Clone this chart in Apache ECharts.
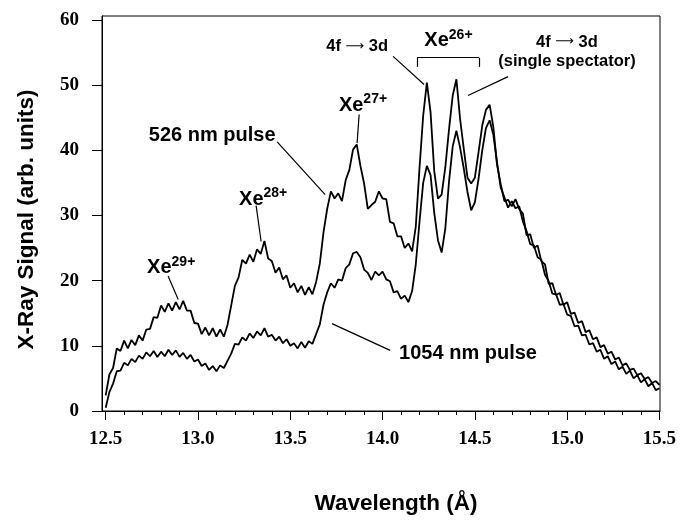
<!DOCTYPE html>
<html><head><meta charset="utf-8">
<script src="https://cdn.jsdelivr.net/npm/echarts@6/dist/echarts.min.js"></script>
<style>html,body{margin:0;padding:0;background:#fff}#c{width:685px;height:520px}</style>
</head><body><div id="c"></div>
<script>
// Wavelength grid (Å)
const wavelength = [
12.50,12.52,12.54,12.56,12.58,12.60,12.62,12.64,12.66,12.68,12.70,12.72,12.74,12.76,12.78,12.80,12.82,12.84,12.86,12.88,
12.90,12.92,12.94,12.96,12.98,13.00,13.02,13.04,13.06,13.08,13.10,13.12,13.14,13.16,13.18,13.20,13.22,13.24,13.26,13.28,
13.30,13.32,13.34,13.36,13.38,13.40,13.42,13.44,13.46,13.48,13.50,13.52,13.54,13.56,13.58,13.60,13.62,13.64,13.66,13.68,
13.70,13.72,13.74,13.76,13.78,13.80,13.82,13.84,13.86,13.88,13.90,13.92,13.94,13.96,13.98,14.00,14.02,14.04,14.06,14.08,
14.10,14.12,14.14,14.16,14.18,14.20,14.22,14.24,14.26,14.28,14.30,14.32,14.34,14.36,14.38,14.40,14.42,14.44,14.46,14.48,
14.50,14.52,14.54,14.56,14.58,14.60,14.62,14.64,14.66,14.68,14.70,14.72,14.74,14.76,14.78,14.80,14.82,14.84,14.86,14.88,
14.90,14.92,14.94,14.96,14.98,15.00,15.02,15.04,15.06,15.08,15.10,15.12,15.14,15.16,15.18,15.20,15.22,15.24,15.26,15.28,
15.30,15.32,15.34,15.36,15.38,15.40,15.42,15.44,15.46,15.48,15.50];

// 526 nm pulse signal
const pulse526 = [
2.4,5.6,6.6,9.6,9.2,10.8,9.6,10.9,10.1,11.6,10.8,12.5,12.6,14.4,14.3,16.2,15.2,16.5,15.4,16.7,
15.6,16.9,15.4,15.4,13.5,13.4,11.8,12.8,11.6,12.7,11.4,12.5,11.4,13.2,16.2,19.2,20.5,23.2,22.6,24.0,
22.9,24.8,24.1,26.1,23.4,23.0,21.2,22.0,20.2,20.8,18.9,19.6,18.2,19.2,17.8,19.0,17.9,19.8,22.6,27.4,
31.0,33.7,32.6,33.4,32.2,35.4,37.0,40.1,40.9,37.6,34.9,31.0,31.6,32.1,33.7,32.6,32.5,29.0,28.8,26.8,
26.8,25.0,25.7,24.5,28.3,37.2,45.3,50.4,45.8,36.8,32.6,33.2,37.4,43.2,48.4,50.9,44.8,40.2,35.8,34.9,
35.8,39.7,43.8,46.2,47.0,43.6,37.8,34.8,32.2,32.4,31.4,32.5,31.0,30.3,27.0,27.1,25.0,25.4,23.0,22.5,
19.5,19.6,17.8,18.1,16.3,16.7,14.9,15.1,13.5,13.8,12.1,12.4,11.0,11.3,9.8,10.1,8.8,9.1,7.9,8.2,
7.0,7.3,6.3,6.5,5.5,5.8,4.9,5.2,4.3,4.6,4.0];

// 1054 nm pulse signal
const pulse1054 = [
0.5,2.9,4.2,6.1,6.2,7.4,7.0,8.0,7.5,8.5,8.0,9.0,8.4,9.2,8.3,9.1,8.4,9.4,8.6,9.3,
8.3,8.9,8.0,8.6,7.6,7.9,6.9,7.3,6.3,6.9,6.1,7.0,6.6,7.7,8.8,10.3,10.2,11.3,10.8,11.9,
11.2,12.2,11.6,12.7,11.4,11.7,10.8,11.4,10.4,11.0,10.0,10.4,9.6,10.6,9.7,10.7,10.3,11.8,13.3,16.3,
18.2,19.6,18.9,20.2,20.0,21.9,22.5,24.2,24.4,23.6,21.7,21.2,20.1,21.4,20.8,21.4,20.2,19.9,18.2,18.4,
17.2,17.7,16.7,18.4,22.5,29.0,35.0,37.6,36.2,30.4,26.2,24.3,28.0,35.2,40.6,43.0,40.4,37.2,33.6,30.8,
32.0,35.6,40.0,43.4,44.6,42.4,38.2,34.3,32.8,31.2,32.2,31.1,31.4,29.1,27.6,25.6,25.4,23.6,23.2,20.9,
19.9,18.0,17.9,16.3,16.4,14.8,14.6,13.0,13.1,11.6,11.7,10.2,10.4,9.1,9.4,8.0,8.4,7.2,7.6,6.4,
6.8,5.7,6.2,5.0,5.5,4.4,4.9,3.8,4.3,3.2,3.5];

// Tick labels
const xTickValues = [12.5, 13.0, 13.5, 14.0, 14.5, 15.0, 15.5];
const xMinorTickValues = [12.6,12.7,12.8,12.9,13.1,13.2,13.3,13.4,13.6,13.7,13.8,13.9,
  14.1,14.2,14.3,14.4,14.6,14.7,14.8,14.9,15.1,15.2,15.3,15.4];
const yTickValues = [0, 10, 20, 30, 40, 50, 60];

// Annotation texts (anchor in data units: wavelength, signal)
const annotationLabels = [
  {text: '526 nm pulse', at: [13.077, 42.2], style: 'main'},
  {text: '1054 nm pulse', at: [14.463, 8.8], style: 'main'},
  {text: '{b|Xe}{s|29+}', at: [12.855, 22.2], style: 'xe'},
  {text: '{b|Xe}{s|28+}', at: [13.353, 32.7], style: 'xe'},
  {text: '{b|Xe}{s|27+}', at: [13.894, 47.1], style: 'xe'},
  {text: '{b|Xe}{s|26+}', at: [14.357, 57.0], style: 'xe'},
  {text: '{t|4f }{a|\u27F6}{t| 3d}', at: [13.862, 55.9], style: 'small'},
  {text: '{t|4f }{a|\u27F6}{t| 3d}', at: [14.999, 56.6], style: 'small'},
  {text: '{t|(single spectator)}', at: [14.999, 53.6], style: 'small'}
];
// Leader lines and bracket (data units)
const leaderLines = [
  [[13.429, 41.3], [13.689, 33.2]],
  [[13.726, 13.4], [14.041, 9.3]],
  [[12.838, 20.7], [12.893, 17.1]],
  [[13.315, 31.5], [13.342, 26.0]],
  [[13.873, 45.5], [13.862, 41.1]],
  [[14.057, 54.4], [14.225, 50.1]],
  [[14.680, 51.3], [14.463, 48.4]],
  [[14.187, 54.2], [14.523, 54.2]],
  [[14.187, 54.2], [14.187, 52.8]],
  [[14.523, 54.2], [14.523, 52.8]]
];

const sans = 'Liberation Sans, Arial, sans-serif';
const serif = 'Liberation Serif, Times New Roman, serif';
const labelStyles = {
  main: {fontFamily: sans, fontWeight: 'bold', fontSize: 20, color: '#000'},
  small: {color: '#000', rich: {
    t: {fontFamily: sans, fontWeight: 'bold', fontSize: 16.5, color: '#000'},
    a: {fontFamily: 'DejaVu Sans, sans-serif', fontWeight: 'normal', fontSize: 13, color: '#000'}
  }},
  xe: {color: '#000', rich: {
    b: {fontFamily: sans, fontWeight: 'bold', fontSize: 20, lineHeight: 23, verticalAlign: 'bottom', color: '#000'},
    s: {fontFamily: sans, fontWeight: 'bold', fontSize: 14, lineHeight: 15, verticalAlign: 'top', color: '#000'}
  }}
};

const chart = echarts.init(document.getElementById('c'), null, {renderer: 'canvas'});
const pairs = arr => wavelength.map((w, i) => [w, arr[i]]);

const option = {
  animation: false,
  backgroundColor: '#fff',
  grid: {left: 102, right: 25, top: 16, bottom: 106, show: true, borderColor: '#000', borderWidth: 1, backgroundColor: 'transparent'},
  xAxis: [{
    type: 'value', min: 12.48, max: 15.503, position: 'bottom',
    axisLine: {show: true, lineStyle: {color: '#000', width: 1}},
    axisTick: {show: true, inside: false, length: 9, customValues: xTickValues, lineStyle: {color: '#000', width: 1}},
    axisLabel: {show: true, customValues: xTickValues, margin: 19, formatter: v => v.toFixed(1),
      fontFamily: serif, fontWeight: 'bold', fontSize: 19, color: '#000'},
    splitLine: {show: false},
    name: 'Wavelength (\u00C5)', nameLocation: 'middle', nameGap: 81,
    nameTextStyle: {fontFamily: sans, fontWeight: 'bold', fontSize: 22.5, color: '#000', padding: [0, 0, 0, 30]}
  }, {
    type: 'value', min: 12.48, max: 15.503, position: 'bottom', offset: 0,
    axisLine: {show: false},
    axisTick: {show: true, inside: false, length: 4, customValues: xMinorTickValues, lineStyle: {color: '#000', width: 1}},
    axisLabel: {show: false},
    splitLine: {show: false}
  }],
  yAxis: [{
    type: 'value', min: 0, max: 60.6,
    axisLine: {show: true, lineStyle: {color: '#000', width: 1}},
    axisTick: {show: true, inside: false, length: 10, customValues: yTickValues, lineStyle: {color: '#000', width: 1}},
    axisLabel: {show: true, customValues: yTickValues, margin: 23,
      fontFamily: serif, fontWeight: 'bold', fontSize: 19, color: '#000'},
    splitLine: {show: false},
    name: 'X-Ray Signal (arb. units)', nameLocation: 'middle', nameGap: 64, nameRotate: 90,
    nameTextStyle: {fontFamily: sans, fontWeight: 'bold', fontSize: 22.5, color: '#000', padding: [0, 12, 0, 0]}
  }],
  series: [
    {name: '526 nm pulse', type: 'line', data: pairs(pulse526), showSymbol: false, symbol: 'none',
      lineStyle: {color: '#000', width: 1.8}, z: 3},
    {name: '1054 nm pulse', type: 'line', data: pairs(pulse1054), showSymbol: false, symbol: 'none',
      lineStyle: {color: '#000', width: 1.8}, z: 3},
    {name: 'annotations', type: 'scatter', symbolSize: 1, itemStyle: {color: 'rgba(0,0,0,0)', opacity: 1}, silent: true, z: 5,
      data: annotationLabels.map(a => ({
        value: a.at,
        label: Object.assign({show: true, position: 'inside', opacity: 1, formatter: a.text}, labelStyles[a.style])
      })),
      markLine: {
        silent: true, symbol: ['none', 'none'], animation: false,
        lineStyle: {color: '#000', width: 1.2, type: 'solid', opacity: 1},
        label: {show: false},
        data: leaderLines.map(seg => [{coord: seg[0]}, {coord: seg[1]}])
      }
    }
  ]
};
chart.setOption(option);
</script>
</body></html>
